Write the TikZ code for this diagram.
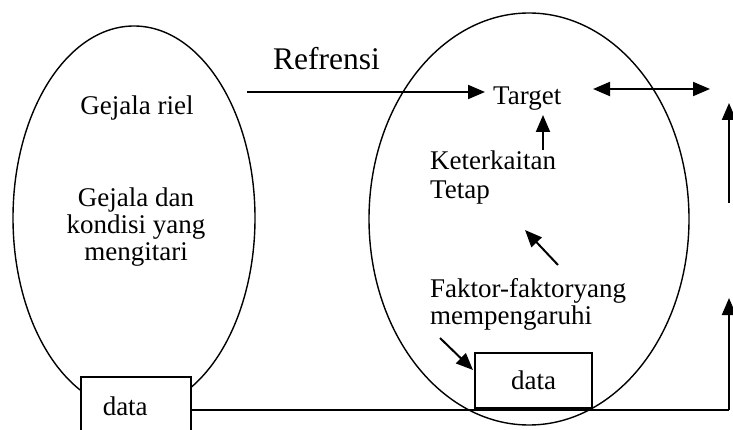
\documentclass[tikz,border=0pt]{standalone}
\usepackage{fontspec}
\setmainfont{Liberation Serif}
\usetikzlibrary{arrows.meta,shapes.geometric}
\begin{document}
\begin{tikzpicture}[x=1pt,y=-1pt,
    lbl/.style={font=\fontsize{27}{27}\selectfont, inner sep=0pt},
    arr/.style={line width=2pt, -{Triangle[length=17pt,width=14pt]}},
    dbl/.style={line width=2pt, {Triangle[length=17pt,width=14pt]}-{Triangle[length=17pt,width=14pt]}},
    oval/.style={draw, ellipse, line width=1.4pt, inner sep=0pt},
    kotak/.style={draw, line width=1.5pt, fill=white, font=\fontsize{27}{27}\selectfont}]
    \useasboundingbox (0,0) rectangle (733,430);
    \clip (0,0) rectangle (733,430);
    % the two ovals
    \node[oval, minimum width=242pt, minimum height=384pt] (riil) at (134,218) {};
    \node[oval, minimum width=320pt, minimum height=412pt] (sistem) at (529,219) {};
    % texts
    \node[lbl, anchor=base] (riel) at (137,115) {Gejala riel};
    \node[lbl, align=center] (kondisi) at (136,227) {Gejala dan\\kondisi yang\\mengitari};
    \node[font=\fontsize{31.5}{31.5}\selectfont, inner sep=0pt, anchor=base west] (ref) at (273,70) {Refrensi};
    \node[lbl, anchor=base west] (target) at (493,105) {Target};
    \node[lbl, align=left, anchor=west] (kait) at (430,178) {Keterkaitan\\[2pt]Tetap};
    \node[lbl, align=left, anchor=west] (faktor) at (430,304) {Faktor-faktoryang\\mempengaruhi};
    % data boxes
    \node[kotak, anchor=north west, text width=66pt, align=left, inner xsep=22pt,
          minimum height=60pt] (dataL) at (80,376) {data};
    \node[kotak, minimum width=117pt, minimum height=55pt] (dataR) at (533.5,380.5) {data};
    % free ends of the arrows
    \coordinate (refA) at (247,92);
    \coordinate (dblL) at (593,89);
    \coordinate (dblR) at (710,89);
    \coordinate (kA) at (543,150);
    \coordinate (kB) at (543,115);
    \coordinate (fA) at (558,265);
    \coordinate (fB) at (525,230);
    \coordinate (dA) at (440,338);
    \coordinate (dB) at (473,370);
    \coordinate (sudut) at (729,410);
    \coordinate (naik) at (729,298);
    \coordinate (atasA) at (729,203);
    \coordinate (atasB) at (729,103);
    % connectors
    \draw[arr, shorten >=8pt] (refA) -- (refA -| target.west);
    \draw[dbl] (dblL) -- (dblR);
    \foreach \s/\t in {kA/kB, fA/fB, dA/dB, sudut/naik, atasA/atasB} {
        \draw[arr] (\s) -- (\t);
    }
    \draw[line width=1.5pt] (sudut -| dataL.east) -- (sudut);
\end{tikzpicture}
\end{document}
